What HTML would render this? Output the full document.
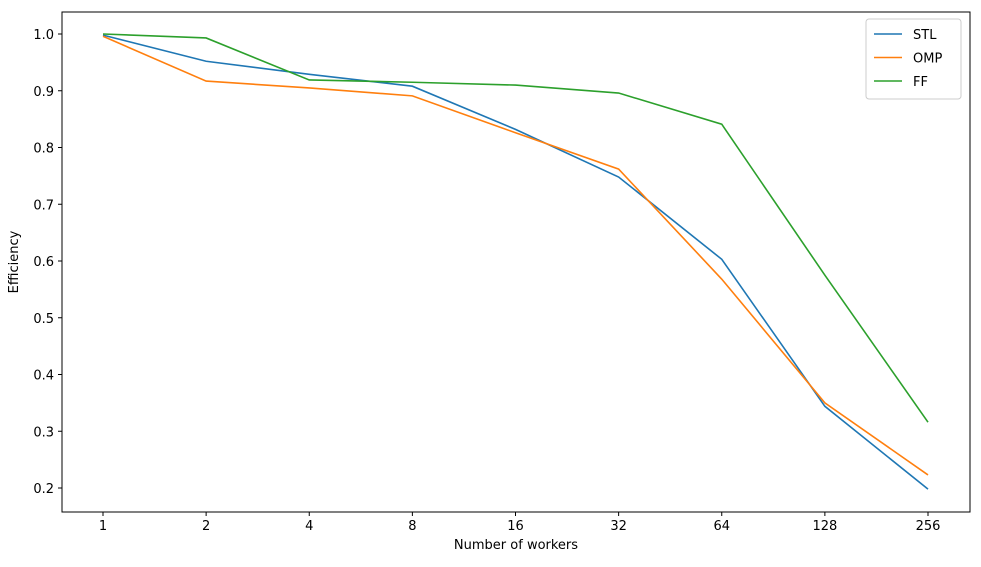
<!DOCTYPE html>
<html><head><meta charset="utf-8"><style>
body{margin:0;background:#fff;font-family:"Liberation Sans","DejaVu Sans",sans-serif;}
svg text{font-family:"DejaVu Sans","Liberation Sans",sans-serif;font-size:13px;fill:#000;}
</style></head><body>
<svg id="chart" width="981" height="562" xmlns="http://www.w3.org/2000/svg"></svg>
<script>
const categories=["1","2","4","8","16","32","64","128","256"];
const stlValues=[0.998,0.952,0.929,0.908,0.832,0.748,0.603,0.344,0.198];
const ompValues=[0.996,0.917,0.905,0.891,0.826,0.762,0.568,0.35,0.223];
const ffValues=[1.0,0.993,0.919,0.915,0.910,0.896,0.841,0.575,0.316];
const yTicks=[0.2,0.3,0.4,0.5,0.6,0.7,0.8,0.9,1.0];
const seriesNames=["STL","OMP","FF"];
const NS="http://www.w3.org/2000/svg";
const svg=document.getElementById('chart');
const L=62,R=970,T=12,B=512;
function x(i){return 103+i*(928-103)/(categories.length-1);}
function y(v){return 488-(v-0.2)*(488-34)/0.8;}
function mk(tag,attrs,parent){const e=document.createElementNS(NS,tag);for(const k in attrs)e.setAttribute(k,attrs[k]);(parent||svg).appendChild(e);return e;}
const frame=mk('rect',{x:L,y:T,width:R-L,height:B-T,fill:'none',stroke:'#000','stroke-width':1});


categories.forEach((c,i)=>{
  const t=mk('line',{x1:x(i),x2:x(i),y1:B,y2:B+4,stroke:'#000'});
  
  
  const lb=mk('text',{x:x(i),y:B+18,'text-anchor':'middle'});lb.textContent=c;
  
  
});
yTicks.forEach(v=>{
  const t=mk('line',{x1:L-4,x2:L,y1:y(v),y2:y(v),stroke:'#000'});
  
  
  const lb=mk('text',{x:L-8,y:y(v)+5,'text-anchor':'end'});lb.textContent=v.toFixed(1);
  
  
});
const xt=mk('text',{x:(L+R)/2,y:549,'text-anchor':'middle'});xt.textContent="Number of workers";


const yt=mk('text',{x:18,y:(T+B)/2,'text-anchor':'middle',transform:`rotate(-90 18 ${(T+B)/2})`});yt.textContent="Efficiency";


const colors=["#1f77b4","#ff7f0e","#2ca02c"];
[stlValues,ompValues,ffValues].forEach((vals,s)=>{
  const p=mk('polyline',{points:vals.map((v,i)=>x(i)+','+y(v)).join(' '),fill:'none',stroke:colors[s],'stroke-width':1.6});
  
  
});
const lg=mk('g',{});


mk('rect',{x:866,y:19,width:95,height:80,rx:3,fill:'#fff',stroke:'#ccc'},lg);
seriesNames.forEach((n,s)=>{
  const yy=34+s*23.5;
  const ln=mk('line',{x1:874,x2:902,y1:yy,y2:yy,stroke:colors[s],'stroke-width':1.6},lg);
  
  
  const tx=mk('text',{x:913,y:yy+5},lg);tx.textContent=n;
  
  
});
</script>
</body></html>
